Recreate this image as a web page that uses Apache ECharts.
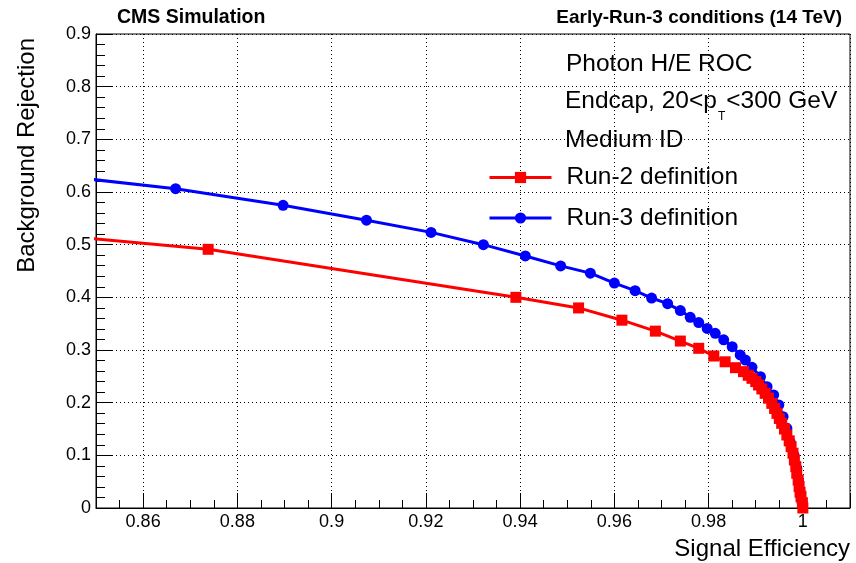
<!DOCTYPE html>
<html>
<head>
<meta charset="utf-8">
<title>Photon H/E ROC</title>
<script src="https://cdn.jsdelivr.net/npm/echarts@6/dist/echarts.min.js"></script>
<style>
  html, body { margin: 0; padding: 0; background: #ffffff; }
  #chart { width: 856px; height: 563px; }
</style>
</head>
<body>
<div id="chart"></div>
<script>
// ROC points: signal efficiency vs background rejection
const run2Eff = [0.8350, 0.8738, 0.9391, 0.9524, 0.9616, 0.9687, 0.9740, 0.9779, 0.9811, 0.9835,
                 0.9857, 0.9874, 0.9884, 0.9892, 0.9900, 0.9906, 0.9913, 0.9920, 0.9927, 0.9934,
                 0.9940, 0.9945, 0.9950, 0.9955, 0.9961, 0.9966, 0.9971, 0.9975, 0.9979, 0.9982,
                 0.9985, 0.9987, 0.9990, 0.9992, 0.9994, 0.9996, 0.9999, 1.0000];
const run2Rej = [0.5231, 0.4912, 0.4000, 0.3799, 0.3566, 0.3358, 0.3170, 0.3032, 0.2886, 0.2776,
                 0.2664, 0.2589, 0.2520, 0.2462, 0.2400, 0.2335, 0.2260, 0.2177, 0.2085, 0.1987,
                 0.1890, 0.1797, 0.1700, 0.1608, 0.1500, 0.1386, 0.1275, 0.1165, 0.1040, 0.0911,
                 0.0785, 0.0660, 0.0530, 0.0406, 0.0300, 0.0215, 0.0100, 0.0000];

const run3Eff = [0.8405, 0.8669, 0.8897, 0.9074, 0.9211, 0.9322, 0.9411, 0.9486, 0.9549, 0.9600,
                 0.9644, 0.9679, 0.9713, 0.9740, 0.9761, 0.9779, 0.9797, 0.9814, 0.9832, 0.9850,
                 0.9867, 0.9878, 0.9892, 0.9910, 0.9924, 0.9938, 0.9949, 0.9958, 0.9966, 0.9973,
                 0.9981, 0.9987, 0.9991, 0.9995, 0.9998];
const run3Rej = [0.6325, 0.6063, 0.5748, 0.5465, 0.5233, 0.5000, 0.4786, 0.4597, 0.4459, 0.4270,
                 0.4126, 0.3987, 0.3880, 0.3748, 0.3620, 0.3520, 0.3410, 0.3317, 0.3194, 0.3064,
                 0.2906, 0.2810, 0.2671, 0.2494, 0.2304, 0.2146, 0.1956, 0.1734, 0.1512, 0.1250,
                 0.1000, 0.0750, 0.0500, 0.0280, 0.0120];

const seriesNames = ['Run-2 definition', 'Run-3 definition'];
const infoLines = ['Photon H/E ROC', 'Endcap, 20<p', 'T', '<300 GeV', 'Medium ID'];
const headerLeft = 'CMS Simulation';
const headerRight = 'Early-Run-3 conditions (14 TeV)';
const xTitle = 'Signal Efficiency';
const yTitle = 'Background Rejection';

const xRange = [0.85, 1.01];
const yRange = [0, 0.9];

const FONT = '"Liberation Sans", Arial, Helvetica, sans-serif';
const BLACK = '#000000';

function zip(xs, ys) { return xs.map((x, i) => [x, ys[i]]); }

function xLabel(v) {
  if (Math.abs(v - xRange[0]) < 1e-9 || Math.abs(v - xRange[1]) < 1e-9) return '';
  return String(Math.round(v * 100) / 100);
}
function yLabel(v) { return String(Math.round(v * 10) / 10); }

const chart = echarts.init(document.getElementById('chart'), null, { renderer: 'canvas' });

const option = {
  backgroundColor: '#ffffff',
  animation: false,
  textStyle: { fontFamily: FONT, color: BLACK },
  grid: {
    left: 96, top: 34, width: 754, height: 474,
    show: true, borderColor: BLACK, borderWidth: 1, backgroundColor: 'transparent'
  },
  xAxis: [
    { // fine ticks every 0.005
      type: 'value', gridIndex: 0, position: 'bottom',
      min: xRange[0], max: xRange[1], interval: 0.005,
      axisLine: { show: true, lineStyle: { color: BLACK, width: 1 } },
      axisTick: { show: true, inside: true, length: 8, lineStyle: { color: BLACK, width: 1 } },
      axisLabel: { show: false },
      splitLine: { show: false }
    },
    { // labelled ticks every 0.02 with dotted grid
      type: 'value', gridIndex: 0, position: 'bottom',
      min: xRange[0], max: xRange[1], splitNumber: 8,
      axisLine: { show: false },
      axisTick: { show: true, inside: true, length: 15, lineStyle: { color: BLACK, width: 1 } },
      axisLabel: { show: true, fontSize: 18, color: BLACK, fontFamily: FONT, margin: 5, formatter: xLabel },
      splitLine: { show: true, lineStyle: { color: BLACK, width: 1, type: [1, 3] } }
    }
  ],
  yAxis: {
    type: 'value', min: yRange[0], max: yRange[1], interval: 0.1,
    axisLine: { show: true, lineStyle: { color: BLACK, width: 1 } },
    axisTick: { show: true, inside: true, length: 16, lineStyle: { color: BLACK, width: 1 } },
    minorTick: { show: true, splitNumber: 5, length: 9, lineStyle: { color: BLACK, width: 1 } },
    axisLabel: { fontSize: 18, color: BLACK, fontFamily: FONT, margin: 5, formatter: yLabel },
    splitLine: { show: true, lineStyle: { color: BLACK, width: 1, type: [1, 3] } }
  },
  legend: {
    data: seriesNames,
    orient: 'vertical', left: 488, top: 165, padding: 0,
    itemWidth: 62, itemHeight: 14, itemGap: 15.5,
    selectedMode: false,
    lineStyle: { width: 3 },
    textStyle: { fontSize: 24.5, color: BLACK, fontFamily: FONT, padding: [0, 0, 0, 10] }
  },
  series: [
    {
      name: seriesNames[1], type: 'line', xAxisIndex: 1,
      data: zip(run3Eff, run3Rej),
      color: '#0000ff',
      symbol: 'circle', symbolSize: 11, showAllSymbol: true,
      lineStyle: { color: '#0000ff', width: 3 },
      itemStyle: { color: '#0000ff' },
      clip: true, z: 3
    },
    {
      name: seriesNames[0], type: 'line', xAxisIndex: 1,
      data: zip(run2Eff, run2Rej),
      color: '#ff0000',
      symbol: 'rect', symbolSize: 11, showAllSymbol: true,
      lineStyle: { color: '#ff0000', width: 3 },
      itemStyle: { color: '#ff0000' },
      clip: true, z: 4
    }
  ],
  graphic: [
    { type: 'text', x: 117, y: 18,
      style: { text: headerLeft, font: 'bold 19.5px ' + FONT, fill: BLACK, align: 'left', verticalAlign: 'middle' } },
    { type: 'text', x: 842, y: 18,
      style: { text: headerRight, font: 'bold 19px ' + FONT, fill: BLACK, align: 'right', verticalAlign: 'middle' } },
    { type: 'text', x: 566, y: 64,
      style: { text: infoLines[0], font: '24.5px ' + FONT, fill: BLACK, align: 'left', verticalAlign: 'middle' } },
    { type: 'text', x: 565, y: 89,
      style: {
        text: '{m|' + infoLines[1] + '}{s|' + infoLines[2] + '}{m|' + infoLines[3] + '}',
        align: 'left', verticalAlign: 'top',
        rich: {
          m: { fontSize: 24.5, fontFamily: FONT, fill: BLACK, color: BLACK, lineHeight: 28, verticalAlign: 'top' },
          s: { fontSize: 12, fontFamily: FONT, fill: BLACK, color: BLACK, lineHeight: 12, padding: [22, 1, 0, 1], verticalAlign: 'top' }
        }
      } },
    { type: 'text', x: 565, y: 140,
      style: { text: infoLines[4], font: '24.5px ' + FONT, fill: BLACK, align: 'left', verticalAlign: 'middle' } },
    { type: 'text', x: 850, y: 549,
      style: { text: xTitle, font: '24px ' + FONT, fill: BLACK, align: 'right', verticalAlign: 'middle' } },
    { type: 'text', x: 27, y: 38, rotation: Math.PI / 2,
      style: { text: yTitle, font: '24px ' + FONT, fill: BLACK, align: 'right', verticalAlign: 'middle' } }
  ]
};

chart.setOption(option);
</script>
</body>
</html>
